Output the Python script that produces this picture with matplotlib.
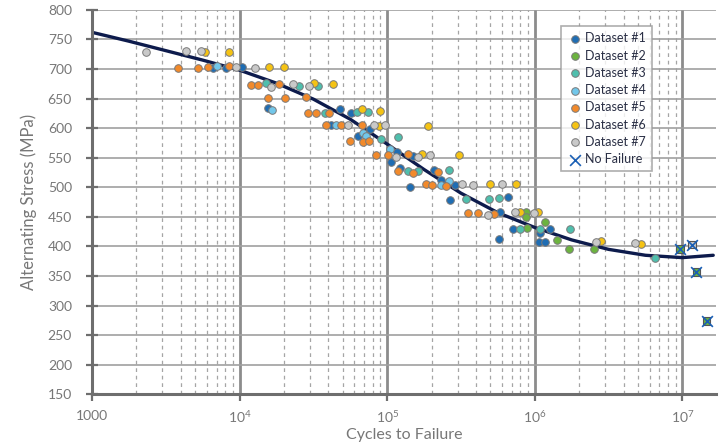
import numpy as np
import matplotlib
matplotlib.use("Agg")
import matplotlib.pyplot as plt
from matplotlib.ticker import FixedLocator, FixedFormatter, LogLocator, NullFormatter

plt.rcParams['font.family'] = ['Lato', 'DejaVu Sans']
plt.rcParams['mathtext.fontset'] = 'custom'
plt.rcParams['mathtext.rm'] = 'Lato'

# ---- data (cycles, MPa) ----
ds1_n = [6600, 8050, 10400, 15450, 41700, 48200, 57100, 63800, 76700, 116400, 105900, 123000,
         148900, 142900, 206100, 231700, 287100, 264800, 583400, 654600, 717800, 574100,
         1079000, 1259000, 1067000, 1178000]
ds1_s = [702, 702, 704, 634, 605, 632, 626, 586, 598, 559, 543, 533,
         553, 500, 530, 512, 503, 479, 458, 484, 430, 413,
         422, 429, 408, 408]

ds2_n = [867000, 867000, 889000, 1167000, 1419000, 1694000, 2512000]
ds2_s = [458, 450, 431, 441, 411, 395, 396]

ds3_n = [15140, 25180, 33880, 37760, 62520, 74300, 91410, 118900, 138000, 161100, 261800,
         341200, 488700, 574100, 788900, 1079000, 1742000, 6516000]
ds3_s = [676, 671, 672, 625, 627, 627, 582, 585, 528, 528, 529,
         480, 480, 481, 429, 430, 430, 380]

ds4_n = [7000, 16670, 45080, 68390, 71780, 103800, 231700, 261800]
ds4_s = [705, 631, 605, 592, 587, 564, 503, 510]

ds5_n = [3811, 5212, 6109, 8531, 11910, 13340, 18620, 15600, 20420, 28250, 29110, 33110,
         40180, 38370, 48750, 67300, 56100, 69020, 74990, 83370, 101600, 139300, 117500,
         148900, 220300, 182000, 200400, 249500, 350800, 412100, 530900]
ds5_s = [702, 702, 703, 705, 673, 673, 675, 651, 651, 652, 626, 626,
         626, 605, 605, 605, 579, 577, 578, 555, 555, 557, 527,
         524, 525, 505, 504, 502, 457, 457, 454]

ds6_n = [5861, 8453, 15850, 20040, 31840, 42950, 67300, 89130, 87700, 188800, 172600,
         309000, 498900, 744700, 798000, 1052000, 2812000, 5272000]
ds6_s = [729, 729, 704, 703, 676, 674, 632, 629, 604, 603, 557,
         554, 505, 506, 458, 458, 409, 404]

ds7_n = [2323, 4335, 5483, 9462, 12680, 16440, 23170, 29440, 54450, 81660, 95940, 115100,
         161100, 193600, 322100, 380200, 478600, 602600, 737900, 981700, 2612000, 4775000]
ds7_s = [728, 731, 731, 703, 702, 669, 674, 672, 606, 606, 605, 551,
         552, 554, 505, 503, 453, 505, 458, 457, 407, 405]

# runouts (no failure)
nf_n = [9683000, 12450000, 14620000, 11690000]
nf_s = [396, 357, 274, 403]
nf_colors = ['#6cb33f', '#6cb33f', '#6cb33f', '#c8c8c8']

# fitted S-N curve, read at quarter decades
curve_n = [1e3, 1.778e3, 3.162e3, 5.623e3, 1e4, 1.778e4, 3.162e4, 5.623e4, 1e5, 1.778e5,
           3.162e5, 5.623e5, 1e6, 1.778e6, 3.162e6, 5.623e6, 1e7, 1.62e7]
curve_s = [762, 747, 731, 715, 698, 676, 649, 615, 573, 530,
           490, 457, 432, 411, 395, 385, 381, 385]

series = [
    ('Dataset #1', ds1_n, ds1_s, '#1f6db3'),
    ('Dataset #2', ds2_n, ds2_s, '#6cb33f'),
    ('Dataset #3', ds3_n, ds3_s, '#4fbfad'),
    ('Dataset #4', ds4_n, ds4_s, '#72c7ea'),
    ('Dataset #5', ds5_n, ds5_s, '#f28a2b'),
    ('Dataset #6', ds6_n, ds6_s, '#f5c314'),
    ('Dataset #7', ds7_n, ds7_s, '#c9c9c9'),
]

fig = plt.figure(figsize=(7.25, 4.48), dpi=100)
ax = fig.add_axes([0.127, 0.12, 0.861, 0.858])

ax.set_xscale('log')
ax.set_xlim(1000, 1.7e7)
ax.set_ylim(150, 800)

# grid
ax.yaxis.set_major_locator(FixedLocator(np.arange(150, 801, 50)))
ax.xaxis.set_major_locator(FixedLocator([1e3, 1e4, 1e5, 1e6, 1e7]))
ax.xaxis.set_major_formatter(FixedFormatter(['1000', r'$\mathregular{10^4}$', r'$\mathregular{10^5}$',
                                             r'$\mathregular{10^6}$', r'$\mathregular{10^7}$']))
ax.xaxis.set_minor_locator(LogLocator(base=10, subs=np.arange(2, 10), numticks=20))
ax.xaxis.set_minor_formatter(NullFormatter())
ax.grid(True, axis='y', which='major', color='#a0a0a0', lw=1.2, zorder=0)
ax.grid(True, axis='x', which='major', color='#8c8c8c', lw=2.0, zorder=0)
ax.grid(True, axis='x', which='minor', color='#a5a5a5', lw=0.9, ls=(0, (3, 3)), zorder=0)
ax.set_axisbelow(True)

for side in ['top', 'right']:
    ax.spines[side].set_visible(False)
for side in ['left', 'bottom']:
    ax.spines[side].set_color('#6e6e6e')
    ax.spines[side].set_linewidth(2.2)

ax.tick_params(axis='y', direction='inout', length=9, width=1.6, color='#6e6e6e',
               labelcolor='#777777', labelsize=10, pad=10)
ax.tick_params(axis='x', which='major', direction='out', length=5, width=1.6, color='#6e6e6e',
               labelcolor='#777777', labelsize=10, pad=6)
ax.tick_params(axis='x', which='minor', length=0)

# curve
ax.plot(curve_n, curve_s, color='#0d1b4c', lw=2.4, zorder=2, solid_capstyle='round')

# data points
for label, n, s, c in series:
    ax.scatter(n, s, s=30, color=c, edgecolors='#7a7a7a', linewidths=0.7, zorder=3, label=label)

ax.scatter(nf_n, nf_s, s=30, marker='s', color=nf_colors, edgecolors='#555555', linewidths=0.8, zorder=3)
ax.scatter(nf_n, nf_s, s=60, marker='x', color='#1a5fb4', linewidths=1.2, zorder=4, label='No Failure')

ax.set_xlabel('Cycles to Failure', color='#777777', fontsize=11.5, labelpad=2)
ax.set_ylabel('Alternating Stress (MPa)', color='#777777', fontsize=12, labelpad=8)

leg = ax.legend(loc='upper right', bbox_to_anchor=(0.897, 0.958), frameon=True, fancybox=False,
                fontsize=9, handletextpad=0.2, borderpad=0.5, labelspacing=0.42,
                handlelength=1.2, borderaxespad=0)
leg.get_frame().set_edgecolor('#9a9a9a')
leg.get_frame().set_linewidth(1.2)
for t in leg.get_texts():
    t.set_color('#2a2f45')

fig.savefig('out.png', dpi=100)
